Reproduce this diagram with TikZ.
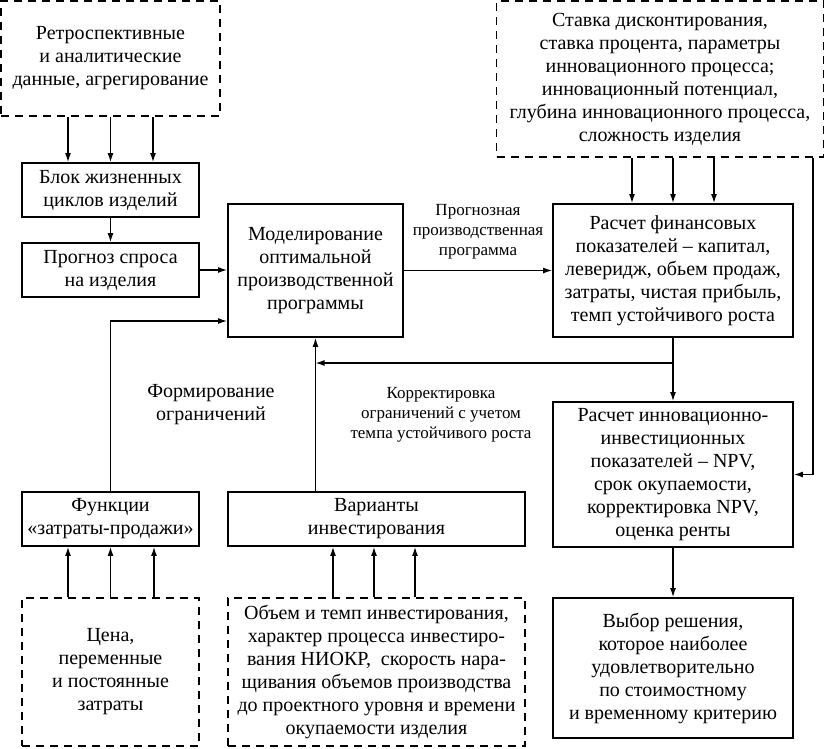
\documentclass[tikz,border=0pt]{standalone}
\usepackage{fontspec}
\setmainfont{Liberation Serif}
\usetikzlibrary{arrows.meta}
\tikzset{
  box/.style={draw, line width=1.8pt, align=center, inner sep=0pt,
    font=\fontsize{20}{23}\selectfont},
  dbox/.style={box, dash pattern=on 8pt off 6pt, line width=1.6pt},
  lbl/.style={align=center, inner sep=0pt, font=\fontsize{20}{23}\selectfont},
  slbl/.style={align=center, inner sep=0pt, font=\fontsize{17}{20}\selectfont},
  arr/.style={line width=1.3pt, -{Latex[length=9pt,width=6pt]}},
  ln/.style={line width=1.3pt}
}
\begin{document}
\begin{tikzpicture}[x=1pt,y=-1pt]
\useasboundingbox (0,0) rectangle (826,748);
% boxes
\node[dbox, minimum width=219pt, minimum height=115pt] (ret) at (110.5,58.5)
  {Ретроспективные\\и аналитические\\данные, агрегирование};
\node[box, minimum width=177pt, minimum height=54pt] (blok) at (110.5,190)
  {Блок жизненных\\циклов изделий};
\node[box, minimum width=177pt, minimum height=54pt] (prog) at (110.5,270)
  {Прогноз спроса\\на изделия};
\node[box, minimum width=175pt, minimum height=133pt] (model) at (315.5,270.5)
  {Моделирование\\оптимальной\\производственной\\программы};
\node[dbox, minimum width=327pt, minimum height=156pt] (stav) at (660,79)
  {Ставка дисконтирования,\\ставка процента, параметры\\инновационного процесса;\\инновационный потенциал,\\глубина инновационного процесса,\\сложность изделия};
\node[box, minimum width=240pt, minimum height=133pt] (fin) at (673,270.5)
  {Расчет финансовых\\показателей – капитал,\\леверидж, обьем продаж,\\затраты, чистая прибыль,\\темп устойчивого роста};
\node[box, minimum width=240pt, minimum height=145pt] (inn) at (673,474.5)
  {Расчет инновационно-\\инвестиционных\\показателей – NPV,\\срок окупаемости,\\корректировка NPV,\\оценка ренты};
\node[box, minimum width=240pt, minimum height=140pt] (vyb) at (673,668)
  {Выбор решения,\\которое наиболее\\удовлетворительно\\по стоимостному\\и временному критерию};
\node[box, minimum width=177pt, minimum height=54pt] (func) at (110.5,519)
  {Функции\\«затраты-продажи»};
\node[box, minimum width=297pt, minimum height=54pt] (var) at (376.5,519)
  {Варианты\\инвестирования};
\node[dbox, minimum width=177pt, minimum height=148pt] (cena) at (110.5,672)
  {Цена,\\переменные\\и постоянные\\затраты};
\node[dbox, minimum width=297pt, minimum height=148pt] (obj) at (376.5,672)
  {Объем и темп инвестирования,\\характер процесса инвестиро-\\вания НИОКР,~ скорость нара-\\щивания объемов производства\\до проектного уровня и времени\\окупаемости изделия};
% labels
\node[slbl] (lprog) at (478,232) {Прогнозная\\производственная\\программа};
\node[lbl] (lform) at (211,405) {Формирование\\ограничений};
\node[slbl] (lkor) at (441,415) {Корректировка\\ограничений с учетом\\темпа устойчивого роста};
% connectors
\foreach \dx in {-42.5,0,42.5}
  \draw[arr] ([xshift=\dx pt]ret.south) -- ([xshift=\dx pt]blok.north);
\draw[arr] (blok) -- (prog);
\draw[arr] (prog.east) -- (prog.east -| model.west);
\draw[arr] (model.east) -- (fin.west);
\foreach \dx in {-41,0,41}
  \draw[arr] ([xshift=\dx pt]fin.north |- stav.south) -- ([xshift=\dx pt]fin.north);
\draw[arr] ([xshift=153pt]stav.south) |- (inn.east);
\draw[arr] (fin) -- (inn);
\coordinate (br) at (673,363);
\draw[arr] (br) -- (br -| model.south);
\draw[arr] (var.north -| model.south) -- (model.south);
\draw[arr] (func.north) |- ([yshift=-50.5pt]model.west);
\draw[arr] (inn) -- (vyb);
\foreach \dx in {-42.5,0,43.5}
  \draw[arr] ([xshift=\dx pt]cena.north) -- ([xshift=\dx pt]func.south);
\foreach \dx in {-43.5,-2.5,38.5}
  \draw[arr] ([xshift=\dx pt]obj.north) -- ([xshift=\dx pt]var.south);
\end{tikzpicture}
\end{document}
